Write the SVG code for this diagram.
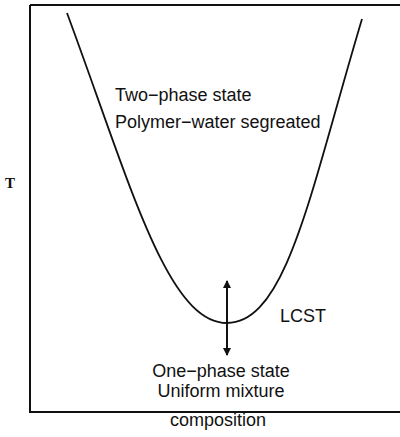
<svg xmlns="http://www.w3.org/2000/svg" width="400" height="437" viewBox="0 0 400 437">
<defs>
<style>
.lbl{font-family:"Liberation Sans",Arial,sans-serif;font-size:18px;fill:#111}
.ax{stroke:#111;stroke-width:2;fill:none}
.crv{stroke:#111;stroke-width:1.8;fill:none}
</style>
<marker id="ah" markerWidth="8" markerHeight="8" refX="7" refY="4" orient="auto" markerUnits="userSpaceOnUse">
<path d="M0,0 L8,4 L0,8 Z" fill="#111"/>
</marker>
</defs>
<rect width="400" height="437" fill="#fff"/>
<g id="axes">
<path class="ax" d="M30,5 L400,5 M30,5 L30,412 L400,412"/>
<text x="10" y="188" text-anchor="middle" style="font-family:'Liberation Serif','Times New Roman',serif;font-weight:bold;font-size:15px;fill:#111">T</text>
<text class="lbl" x="218" y="426" text-anchor="middle">composition</text>
</g>
<g id="curve">
<path class="crv" d="M67,13 C130,183 167,323 227,323 C287,323 311,189 362,19"/>
</g>
<g id="connectors">
<line x1="227" y1="318" x2="227" y2="281" stroke="#111" stroke-width="2" marker-end="url(#ah)"/>
<line x1="227" y1="318" x2="227" y2="355" stroke="#111" stroke-width="2" marker-end="url(#ah)"/>
</g>
<g id="two-phase">
<text class="lbl" x="115" y="101">Two−phase state</text>
<text class="lbl" x="115" y="128">Polymer−water segreated</text>
</g>
<g id="lcst">
<text class="lbl" x="280" y="322">LCST</text>
</g>
<g id="one-phase">
<text class="lbl" x="221" y="377" text-anchor="middle">One−phase state</text>
<text class="lbl" x="221" y="397" text-anchor="middle">Uniform mixture</text>
</g>
</svg>
